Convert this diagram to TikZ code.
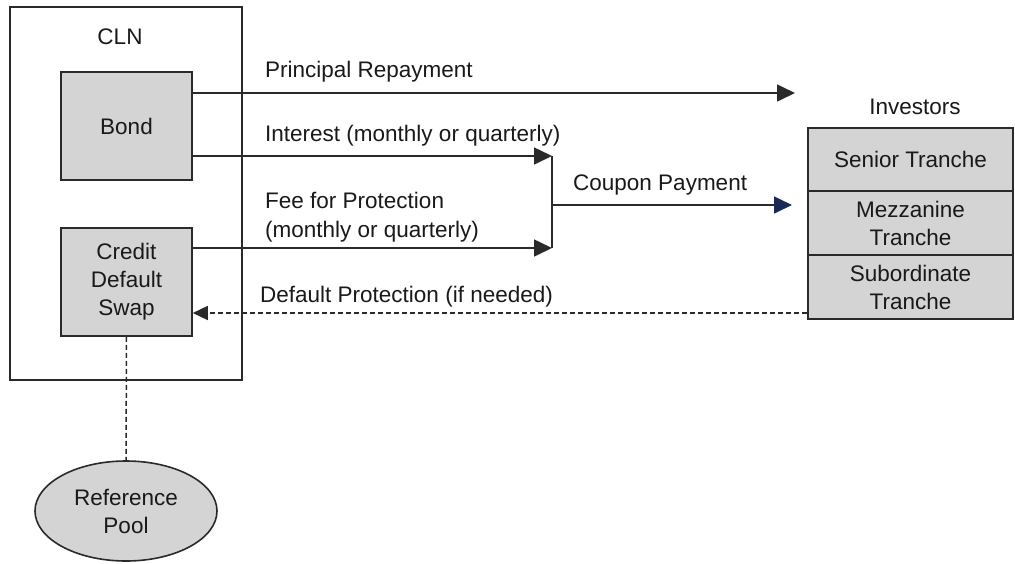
\documentclass[tikz,border=0pt]{standalone}
\usepackage{fontspec}
\setmainfont{Liberation Sans}
\usetikzlibrary{arrows.meta,calc,positioning,shapes.geometric}
\definecolor{boxgray}{HTML}{D4D4D4}
\definecolor{linegray}{HTML}{2A2A2A}
\definecolor{tipblue}{HTML}{1B2A55}
\tikzset{
  box/.style={draw=linegray, fill=boxgray, line width=1.6pt, align=center, inner sep=0pt},
  lbl/.style={anchor=west, inner sep=0pt},
  flow/.style={line width=1.6pt, draw=linegray, -{Triangle[length=18pt,width=17pt]}},
  back/.style={line width=1.5pt, draw=linegray, dash pattern=on 5pt off 3pt},
}

\begin{document}
\begin{tikzpicture}[x=1pt, y=-1pt, font=\fontsize{22.5}{28}\selectfont, text=black!90]
\useasboundingbox (0,0) rectangle (1015,563);

% CLN note
\node[draw=linegray, line width=1.6pt, minimum width=232pt, minimum height=373pt, inner sep=0pt] (cln) at (126,193.5) {};
\node (clnlbl) at (120,37) {CLN};
\node[box, minimum width=131pt, minimum height=108pt] (bond) at (126.5,126) {Bond};
\node[box, minimum width=131pt, minimum height=108pt] (cds) at (126.5,282) {Credit\\Default\\Swap};

% Reference pool
\node[box, ellipse, minimum width=182pt, minimum height=100pt] (pool) at (126,511) {Reference\\Pool};
\draw[back] (cds.south) -- (pool.north);

% Investors
\node (invlbl) at (915,107) {Investors};
\node[box, minimum width=205pt, minimum height=63pt] (senior) at (910.5,159.5) {Senior Tranche};
\node[box, minimum width=205pt, minimum height=64pt] (mezz) at (910.5,223) {Mezzanine\\Tranche};
\node[box, minimum width=205pt, minimum height=64pt] (sub) at (910.5,287) {Subordinate\\Tranche};

% Cash flows
\coordinate (prin) at (795,93);
\coordinate (intend) at (552,156);
\coordinate (feeend) at (552,248);
\coordinate (join) at (552,205);
\coordinate (cpn) at (792,205);
\draw[flow] (bond.east |- 0,93) -- (prin);
\draw[flow] (bond.east |- 0,156) -- (intend);
\draw[flow] (cds.east |- 0,248) -- (feeend);
\draw[line width=1.6pt, linegray] (intend) -- (feeend);
\draw[flow, -{Triangle[length=18pt,width=17pt,color=tipblue]}] (join) -- (cpn);
\draw[back, -{Triangle[length=15pt,width=14pt]}] (sub.west |- 0,313) -- (cds.east |- 0,313);

\node[lbl] (prinlbl) at (265,72) {Principal Repayment};
\node[lbl] (intlbl) at (265,136) {Interest (monthly or quarterly)};
\node[lbl] (feelbl) at (265,200) {Fee for Protection};
\node[lbl] (feelbl2) at (265,232) {(monthly or quarterly)};
\node[lbl] (cpnlbl) at (573,185) {Coupon Payment};
\node[lbl] (deflbl) at (260,297) {Default Protection (if needed)};
\end{tikzpicture}
\end{document}
